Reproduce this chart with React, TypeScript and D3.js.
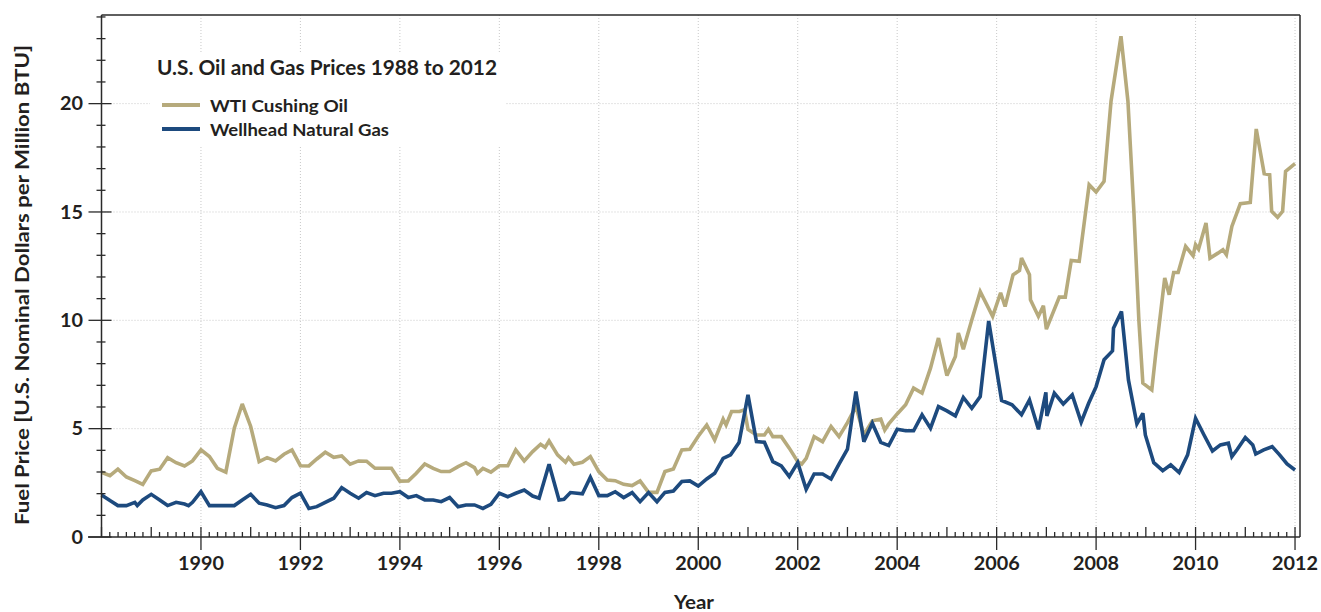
import React from "react";
import * as d3 from "d3";

const TITLE = "U.S. Oil and Gas Prices 1988 to 2012";
const SERIES_NAMES = ["WTI Cushing Oil", "Wellhead Natural Gas"];
const X_LABEL = "Year";
const Y_LABEL = "Fuel Price [U.S. Nominal Dollars per Million BTU]";
const X_TICKS = [1990, 1992, 1994, 1996, 1998, 2000, 2002, 2004, 2006, 2008, 2010, 2012];
const Y_TICKS = [0, 5, 10, 15, 20];

// [year, $/MMBTU]
const oilSeries: [number, number][] = [
  [1988.0, 2.99], [1988.17, 2.83], [1988.33, 3.13], [1988.5, 2.77], [1988.67, 2.6], [1988.83, 2.43],
  [1989.0, 3.05], [1989.17, 3.13], [1989.33, 3.66], [1989.5, 3.43], [1989.67, 3.28], [1989.83, 3.51],
  [1990.0, 4.02], [1990.17, 3.71], [1990.33, 3.17], [1990.5, 2.99], [1990.67, 5.02], [1990.83, 6.14],
  [1991.0, 5.1], [1991.17, 3.48], [1991.33, 3.66], [1991.5, 3.51], [1991.67, 3.82], [1991.83, 4.02],
  [1992.0, 3.29], [1992.17, 3.28], [1992.33, 3.6], [1992.5, 3.91], [1992.67, 3.68], [1992.83, 3.74],
  [1993.0, 3.36], [1993.17, 3.51], [1993.33, 3.5], [1993.5, 3.17], [1993.67, 3.17], [1993.83, 3.17],
  [1994.0, 2.58], [1994.17, 2.59], [1994.33, 2.94], [1994.5, 3.37], [1994.67, 3.17], [1994.83, 3.02],
  [1995.0, 3.02], [1995.17, 3.25], [1995.33, 3.43], [1995.5, 3.2], [1995.56, 2.94], [1995.67, 3.17],
  [1995.83, 2.99], [1996.0, 3.29], [1996.17, 3.29], [1996.33, 4.02], [1996.5, 3.51], [1996.67, 3.94],
  [1996.83, 4.28], [1996.92, 4.13], [1997.0, 4.43], [1997.17, 3.79], [1997.33, 3.45], [1997.39, 3.66],
  [1997.5, 3.36], [1997.67, 3.45], [1997.83, 3.71], [1998.0, 3.02], [1998.17, 2.63], [1998.33, 2.6],
  [1998.5, 2.43], [1998.67, 2.37], [1998.83, 2.59], [1999.0, 2.06], [1999.17, 2.06], [1999.33, 3.02],
  [1999.5, 3.14], [1999.67, 4.02], [1999.83, 4.05], [2000.0, 4.65], [2000.17, 5.17], [2000.33, 4.48],
  [2000.5, 5.44], [2000.56, 5.17], [2000.67, 5.79], [2000.83, 5.79], [2000.93, 5.87], [2001.0, 4.97],
  [2001.17, 4.71], [2001.33, 4.71], [2001.41, 4.97], [2001.5, 4.63], [2001.67, 4.63], [2001.83, 4.1],
  [2002.0, 3.48], [2002.08, 3.36], [2002.17, 3.63], [2002.33, 4.63], [2002.5, 4.4], [2002.67, 5.1],
  [2002.83, 4.63], [2003.0, 5.28], [2003.17, 6.02], [2003.33, 4.71], [2003.5, 5.36], [2003.67, 5.44],
  [2003.75, 4.94], [2003.83, 5.22], [2004.0, 5.68], [2004.17, 6.1], [2004.33, 6.87], [2004.5, 6.64],
  [2004.67, 7.79], [2004.83, 9.18], [2005.0, 7.45], [2005.17, 8.33], [2005.23, 9.41], [2005.33, 8.67],
  [2005.5, 10.02], [2005.67, 11.32], [2005.92, 10.18], [2006.08, 11.27], [2006.17, 10.64], [2006.33, 12.1],
  [2006.46, 12.3], [2006.5, 12.87], [2006.66, 12.1], [2006.68, 10.95], [2006.84, 10.18], [2006.94, 10.67],
  [2007.0, 9.59], [2007.26, 11.07], [2007.38, 11.07], [2007.5, 12.76], [2007.66, 12.72], [2007.86, 16.26],
  [2008.0, 15.92], [2008.16, 16.41], [2008.3, 20.11], [2008.5, 23.11], [2008.64, 20.11], [2008.76, 15.0],
  [2008.86, 10.0], [2008.94, 7.1], [2009.12, 6.79], [2009.2, 8.48], [2009.38, 11.95], [2009.47, 11.18],
  [2009.56, 12.21], [2009.65, 12.21], [2009.8, 13.41], [2009.95, 12.98], [2010.0, 13.49], [2010.06, 13.29],
  [2010.21, 14.49], [2010.29, 12.87], [2010.45, 13.1], [2010.55, 13.26], [2010.62, 13.03], [2010.73, 14.33],
  [2010.9, 15.38], [2011.1, 15.44], [2011.22, 18.83], [2011.38, 16.77], [2011.49, 16.72], [2011.53, 15.03],
  [2011.65, 14.75], [2011.75, 15.03], [2011.81, 16.87], [2012.0, 17.23],
];

const gasSeries: [number, number][] = [
  [1988.0, 1.94], [1988.17, 1.68], [1988.33, 1.45], [1988.5, 1.45], [1988.67, 1.6], [1988.72, 1.45],
  [1988.83, 1.71], [1989.0, 1.97], [1989.17, 1.71], [1989.33, 1.45], [1989.5, 1.6], [1989.67, 1.52],
  [1989.75, 1.45], [1989.83, 1.6], [1990.0, 2.09], [1990.17, 1.45], [1990.33, 1.45], [1990.5, 1.45],
  [1990.67, 1.45], [1990.83, 1.71], [1991.0, 1.97], [1991.17, 1.56], [1991.33, 1.48], [1991.5, 1.35],
  [1991.67, 1.45], [1991.83, 1.82], [1992.0, 2.02], [1992.17, 1.32], [1992.33, 1.4], [1992.5, 1.6],
  [1992.67, 1.79], [1992.83, 2.28], [1993.0, 2.02], [1993.17, 1.79], [1993.33, 2.05], [1993.5, 1.91],
  [1993.67, 2.02], [1993.83, 2.02], [1994.0, 2.09], [1994.17, 1.82], [1994.33, 1.91], [1994.5, 1.71],
  [1994.67, 1.71], [1994.83, 1.63], [1995.0, 1.82], [1995.17, 1.4], [1995.33, 1.48], [1995.5, 1.48],
  [1995.67, 1.32], [1995.83, 1.51], [1996.0, 2.02], [1996.17, 1.86], [1996.33, 2.02], [1996.5, 2.17],
  [1996.67, 1.89], [1996.8, 1.79], [1997.0, 3.36], [1997.2, 1.71], [1997.3, 1.74], [1997.43, 2.05],
  [1997.67, 1.99], [1997.83, 2.76], [1998.0, 1.91], [1998.17, 1.91], [1998.33, 2.09], [1998.5, 1.82],
  [1998.67, 2.05], [1998.83, 1.63], [1999.0, 2.05], [1999.17, 1.63], [1999.33, 2.06], [1999.5, 2.12],
  [1999.67, 2.56], [1999.83, 2.59], [2000.0, 2.35], [2000.17, 2.68], [2000.33, 2.94], [2000.5, 3.63],
  [2000.65, 3.79], [2000.82, 4.36], [2001.0, 6.56], [2001.17, 4.4], [2001.33, 4.37], [2001.5, 3.48],
  [2001.67, 3.28], [2001.83, 2.79], [2002.0, 3.43], [2002.17, 2.2], [2002.33, 2.91], [2002.5, 2.91],
  [2002.67, 2.68], [2002.83, 3.36], [2003.0, 4.05], [2003.17, 6.71], [2003.33, 4.4], [2003.5, 5.25],
  [2003.67, 4.37], [2003.83, 4.22], [2004.0, 4.97], [2004.17, 4.9], [2004.33, 4.9], [2004.5, 5.64],
  [2004.67, 5.02], [2004.83, 6.02], [2005.0, 5.82], [2005.17, 5.59], [2005.33, 6.44], [2005.5, 5.94],
  [2005.67, 6.48], [2005.84, 9.97], [2006.1, 6.3], [2006.31, 6.1], [2006.5, 5.64], [2006.66, 6.33],
  [2006.84, 4.97], [2006.99, 6.68], [2007.01, 5.59], [2007.16, 6.64], [2007.34, 6.14], [2007.52, 6.56],
  [2007.7, 5.3], [2007.85, 6.17], [2008.0, 6.94], [2008.16, 8.18], [2008.33, 8.59], [2008.35, 9.64],
  [2008.51, 10.41], [2008.65, 7.25], [2008.82, 5.22], [2008.94, 5.71], [2008.99, 4.71], [2009.16, 3.43],
  [2009.34, 3.06], [2009.5, 3.33], [2009.67, 2.97], [2009.84, 3.79], [2010.0, 5.48], [2010.17, 4.71],
  [2010.34, 3.97], [2010.5, 4.25], [2010.66, 4.33], [2010.73, 3.71], [2010.84, 4.05], [2011.0, 4.59],
  [2011.15, 4.25], [2011.21, 3.83], [2011.37, 4.02], [2011.54, 4.17], [2011.69, 3.79], [2011.84, 3.37],
  [2012.0, 3.09],
];

const COLORS = ["#b6aa7c", "#1d4a7e"];
const FONT = "Lato, 'Open Sans', sans-serif";
const INK = "#231f20";

export default function App() {
  const W = 1321, H = 612;
  const left = 101.5, right = 1300, top = 15, bottom = 537;
  const x = d3.scaleLinear().domain([1988, 2012.1]).range([left, right]);
  const y = d3.scaleLinear().domain([0, 24.09]).range([bottom, top]);
  const line = d3.line<[number, number]>().x((d) => x(d[0])).y((d) => y(d[1]));

  const minorX = d3.range(0, 24 * 6 + 1).map((i) => 1988 + i / 6);
  const minorY = d3.range(0, 25);
  const legendWidths = [138, 179];

  return (
    <svg width={W} height={H} style={{ position: "absolute", left: 0, top: 0, background: "#fff" }}
      fontFamily={FONT}>
      {/* grid */}
      <g stroke="#c9c9c9" strokeWidth={1} strokeDasharray="1,2">
        {X_TICKS.map((t) => (
          <line key={"gx" + t} x1={x(t)} x2={x(t)} y1={top} y2={bottom} />
        ))}
        {Y_TICKS.filter((t) => t > 0).map((t) => (
          <line key={"gy" + t} x1={left} x2={right} y1={y(t)} y2={y(t)} />
        ))}
      </g>
      {/* legend background */}
      <rect x={150} y={52} width={355} height={95} fill="#fff" />
      {/* series */}
      <path d={line(oilSeries) || ""} fill="none" stroke={COLORS[0]} strokeWidth={3.6}
        strokeLinejoin="miter" strokeMiterlimit={3} />
      <path d={line(gasSeries) || ""} fill="none" stroke={COLORS[1]} strokeWidth={3.6}
        strokeLinejoin="miter" strokeMiterlimit={3} />
      {/* frame */}
      <g stroke="#2a2a2a" strokeWidth={1.5} fill="none">
        <line x1={left} x2={right} y1={top} y2={top} />
        <line x1={right} x2={right} y1={top} y2={bottom} />
        <line x1={left} x2={left} y1={top} y2={bottom} />
        <line x1={88} x2={right} y1={bottom} y2={bottom} />
      </g>
      {/* x ticks */}
      <g stroke="#2a2a2a" strokeWidth={1.3}>
        {minorX.map((t, i) => {
          const major = i % 12 === 0 && i > 0;
          const medium = i % 6 === 0 && !major;
          const y1 = major || medium ? bottom - 10 : bottom - 5;
          const y2 = major ? bottom + 13 : bottom;
          return <line key={"tx" + i} x1={x(t)} x2={x(t)} y1={y1} y2={y2} />;
        })}
      </g>
      {/* y ticks */}
      <g stroke="#2a2a2a" strokeWidth={1.3}>
        {minorY.map((v) => {
          const major = v % 5 === 0;
          return (
            <line key={"ty" + v} x1={major ? left - 13 : left - 5} x2={major ? left + 10 : left + 4}
              y1={y(v)} y2={y(v)} />
          );
        })}
      </g>
      {/* tick labels */}
      <g fill={INK} fontWeight={700} fontSize={19.5}>
        {X_TICKS.map((t) => (
          <text key={"lx" + t} x={x(t)} y={570} textAnchor="middle" textLength={46}
            lengthAdjust="spacingAndGlyphs">{t}</text>
        ))}
        {Y_TICKS.map((t) => (
          <text key={"ly" + t} x={83} y={y(t)} dy="0.35em" textAnchor="end"
            textLength={t >= 10 ? 23 : 11.5} lengthAdjust="spacingAndGlyphs">{t}</text>
        ))}
      </g>
      {/* axis titles */}
      <text x={694} y={609} textAnchor="middle" fill={INK} fontWeight={700} fontSize={18}
        textLength={40} lengthAdjust="spacingAndGlyphs">{X_LABEL}</text>
      <text transform={`translate(29,${285}) rotate(-90)`} textAnchor="middle" fill={INK}
        fontWeight={700} fontSize={19} textLength={480} lengthAdjust="spacingAndGlyphs">{Y_LABEL}</text>
      {/* title and legend */}
      <text x={157} y={75} fill={INK} fontWeight={700} fontSize={20.5} textLength={340}
        lengthAdjust="spacingAndGlyphs">{TITLE}</text>
      {SERIES_NAMES.map((name, i) => (
        <g key={name}>
          <line x1={162} x2={200} y1={105 + i * 24} y2={105 + i * 24} stroke={COLORS[i]} strokeWidth={4} />
          <text x={210} y={112 + i * 24} fill={INK} fontWeight={700} fontSize={17.5}
            textLength={legendWidths[i]} lengthAdjust="spacingAndGlyphs">{name}</text>
        </g>
      ))}
    </svg>
  );
}
